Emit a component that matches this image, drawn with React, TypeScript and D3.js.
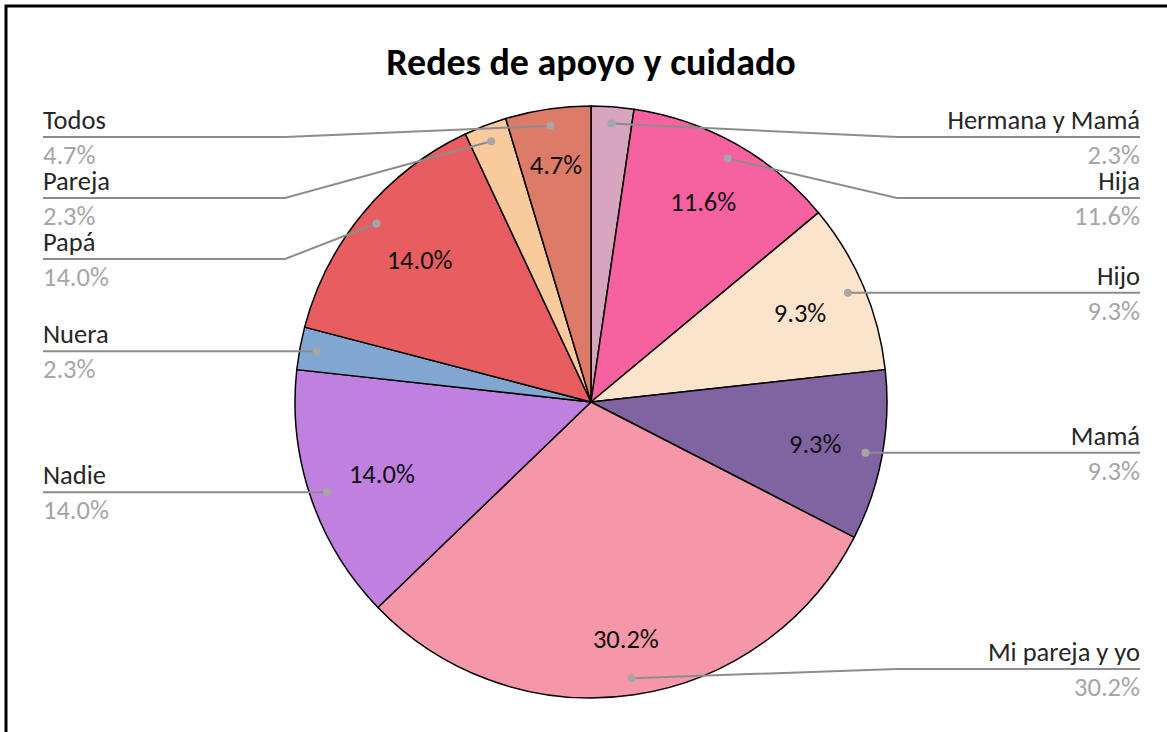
import React from "react";
import * as d3 from "d3";

const categories = ["Hermana y Mamá", "Hija", "Hijo", "Mamá", "Mi pareja y yo", "Nadie", "Nuera", "Papá", "Pareja", "Todos"];
const counts = [1, 5, 4, 4, 13, 6, 1, 6, 1, 2];
const colors = ["#D5A6BD", "#F6629F", "#FCE4CC", "#8064A2", "#F597A8", "#BF80E0", "#82A6D2", "#E85D60", "#F9CA9C", "#DD7B69"];
const title = "Redes de apoyo y cuidado";

const W = 1167;
const H = 732;
const cx = 591;
const cy = 402;
const R = 296;
const FONT = "Carlito, Lato, 'Open Sans', sans-serif";
const FS = 26.5;

let ctx: CanvasRenderingContext2D | null = null;
function textWidth(s: string, size: number) {
  if (typeof document === "undefined") return s.length * size * 0.55;
  if (!ctx) ctx = document.createElement("canvas").getContext("2d");
  if (!ctx) return s.length * size * 0.55;
  ctx.font = `${size}px ${FONT}`;
  return ctx.measureText(s).width;
}

export default function App() {
  const total = d3.sum(counts);
  const fmt = (v: number) => d3.format(".1%")(v / total);
  const pie = d3.pie<number>().sort(null).value((d) => d).startAngle(0).endAngle(2 * Math.PI);
  const arcs = pie(counts);
  const arcGen = d3.arc<d3.PieArcDatum<number>>().innerRadius(0).outerRadius(R);

  const items = arcs.map((a, i) => {
    const mid = (a.startAngle + a.endAngle) / 2;
    const ux = Math.sin(mid);
    const uy = -Math.cos(mid);
    const dotR = R * 0.943;
    const label = fmt(a.value);
    const tw = textWidth(label, FS);
    const th = 24;
    const support = Math.abs(ux) * tw / 2 + Math.abs(uy) * th / 2;
    const lr = R - 40 - support;
    return {
      i,
      mid,
      small: a.endAngle - a.startAngle < 0.2,
      side: ux >= 0 ? "right" : "left",
      dx: cx + ux * dotR,
      dy: cy + uy * dotR,
      lx: cx + ux * lr,
      ly: cy + uy * lr,
      label,
    };
  });

  const minY = 137;
  const maxY = 669;
  const gap = 61;
  const lineY: number[] = new Array(items.length).fill(0);
  (["left", "right"] as const).forEach((side) => {
    const s = items.filter((d) => d.side === side).sort((a, b) => a.dy - b.dy);
    let prev = -Infinity;
    s.forEach((d) => {
      let y = Math.max(d.dy, minY, prev + gap);
      y = Math.min(y, maxY);
      lineY[d.i] = y;
      prev = y;
    });
  });

  const leftX = 43;
  const rightX = 1140;
  const elbowL = 285;
  const elbowR = 897;

  return (
    <div>
      <style>{`body{margin:0;}`}</style>
      <svg width={W} height={H} style={{ display: "block", background: "#fff" }}>
        <rect x={6} y={6} width={W + 20} height={H + 20} fill="#fff" stroke="#000" strokeWidth={3} />
        <text x={cx} y={75} textAnchor="middle" fontFamily={FONT} fontWeight="bold" fontSize={38} fill="#000">
          {title}
        </text>
        <g transform={`translate(${cx},${cy})`}>
          {arcs.map((a, i) => (
            <path key={i} d={arcGen(a) || ""} fill={colors[i]} stroke="#000" strokeWidth={1.5} strokeLinejoin="round" />
          ))}
        </g>
        {items.filter((d) => !d.small).map((d) => (
          <text key={"in" + d.i} x={d.lx} y={d.ly} dy="0.35em" textAnchor="middle" fontFamily={FONT} fontSize={FS} fill="#111">
            {d.label}
          </text>
        ))}
        {items.map((d) => {
          const y = lineY[d.i];
          const isLeft = d.side === "left";
          const endX = isLeft ? leftX : rightX;
          const straight = Math.abs(y - d.dy) < 3;
          const pts: [number, number][] = straight
            ? [[d.dx, d.dy], [endX, d.dy]]
            : [[d.dx, d.dy], [isLeft ? elbowL : elbowR, y], [endX, y]];
          const ly = straight ? d.dy : y;
          return (
            <g key={"out" + d.i}>
              <path d={d3.line()(pts) || ""} fill="none" stroke="#8C8C8C" strokeWidth={2} />
              <circle cx={d.dx} cy={d.dy} r={4} fill="#A6A6A6" />
              <text x={endX} y={ly - 8} textAnchor={isLeft ? "start" : "end"} fontFamily={FONT} fontSize={FS} fill="#262626">
                {categories[d.i]}
              </text>
              <text x={endX} y={ly + 27} textAnchor={isLeft ? "start" : "end"} fontFamily={FONT} fontSize={FS} fill="#A6A6A6">
                {d.label}
              </text>
            </g>
          );
        })}
      </svg>
    </div>
  );
}
